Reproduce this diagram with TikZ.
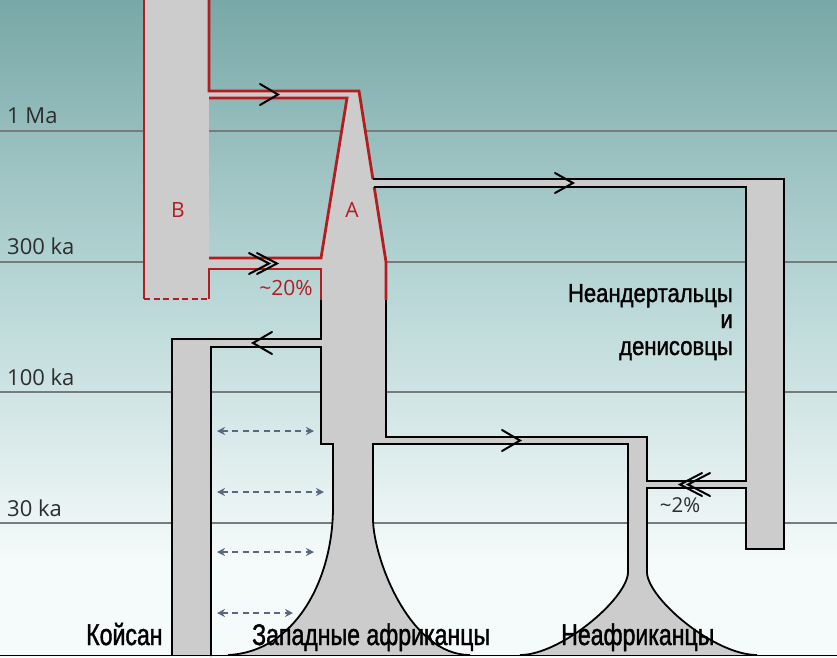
\documentclass[tikz,border=0pt]{standalone}
\usepackage{fontspec}
\setmainfont{Open Sans}
\newfontfamily\condfont[FakeStretch=0.77,FakeBold=1.3]{Liberation Sans}
\newfontfamily\condfontn[FakeStretch=0.85,FakeBold=1.3]{Liberation Sans}
\usetikzlibrary{arrows.meta}
\definecolor{bgtop}{RGB}{120,168,167}
\definecolor{bgmid}{RGB}{182,213,213}
\definecolor{bgbot}{RGB}{245,250,250}
\definecolor{popgrey}{RGB}{204,204,204}
\definecolor{archred}{RGB}{180,28,32}
\definecolor{timeline}{RGB}{118,124,124}
\definecolor{dasharr}{RGB}{88,104,128}
\definecolor{labelgrey}{RGB}{45,45,45}
\begin{document}
\begin{tikzpicture}[x=1pt,y=-1pt,
  outl/.style={black,line width=1.8pt,line join=miter},
  redl/.style={archred,line width=2.8pt,line join=miter},
  chevron/.style={black,line width=2pt,line cap=round,line join=miter},
  tline/.style={timeline,line width=1.3pt},
  migr/.style={dasharr,line width=2pt,dash pattern=on 6pt off 4.5pt,
    {Stealth[length=8pt,width=8pt]}-{Stealth[length=8pt,width=8pt]}},
  tlab/.style={labelgrey,font=\fontsize{22}{26}\selectfont,anchor=base west,inner sep=0pt},
  redlab/.style={archred,font=\fontsize{21}{24}\selectfont,inner sep=0pt},
  biglab/.style={black,font=\condfont\fontsize{30}{32}\selectfont,anchor=base west,inner sep=0pt},
  neanlab/.style={black,font=\condfontn\fontsize{26}{28}\selectfont,anchor=base east,inner sep=0pt}]
\useasboundingbox (0,0) rectangle (837,657);
\clip (0,0) rectangle (837,657);
% background
\shade[top color=bgtop,bottom color=bgbot,middle color=bgmid] (0,0) rectangle (837,560);
\fill[bgbot] (0,559) rectangle (837,657);
% time lines
\draw[tline] (0,131) -- (837,131);
\draw[tline] (0,262) -- (837,262);
\draw[tline] (0,392) -- (837,392);
\draw[tline] (0,523) -- (837,523);
\node[tlab] (t1) at (7,123) {1 Ma};
\node[tlab] (t2) at (7,254) {300 ka};
\node[tlab] (t3) at (7,385) {100 ka};
\node[tlab] (t4) at (7,516) {30 ka};
% grey population fills
\fill[popgrey] (144,-5) rectangle (209,299);
\fill[popgrey] (205,91) rectangle (355,98);
\fill[popgrey] (347,91) -- (359,91) -- (386,262) -- (386,444) -- (321,444) -- (321,258) -- (347,98) -- cycle;
\fill[popgrey] (205,258) rectangle (325,269);
\fill[popgrey] (370,179) rectangle (784,187);
\fill[popgrey] (746,179) rectangle (784,549);
\fill[popgrey] (644,481) rectangle (748,488);
\fill[popgrey] (172,339) rectangle (325,347);
\fill[popgrey] (172,339) rectangle (211,655);
\fill[popgrey] (380,437) rectangle (647,444);
\fill[popgrey] (333,440) -- (333,507) .. controls (333,580) and (295,652) .. (228,655)
   -- (470,655) .. controls (410,655) and (374,560) .. (373,520) -- (373,440) -- cycle;
\fill[popgrey] (628,437) -- (628,573) .. controls (626,600) and (560,655) .. (520,655)
   -- (757,655) .. controls (715,655) and (649,600) .. (647,573) -- (647,437) -- cycle;
% red archaic outlines
\draw[redl] (144,-5) -- (144,299);
\draw[redl,dash pattern=on 6pt off 3.5pt] (144,299) -- (209,299);
\draw[redl] (209,-5) -- (209,91) -- (359,91) -- (372.9,179);
\draw[redl] (374.2,187) -- (386,262) -- (386,300);
\draw[redl] (209,98) -- (347,98) -- (321,258) -- (209,258);
\draw[redl] (209,299) -- (209,269) -- (321,269) -- (321,300);
% black outlines
\draw[outl] (321,300) -- (321,339) -- (172,339) -- (172,656);
\draw[outl] (211,656) -- (211,347) -- (321,347) -- (321,444) -- (333,444) -- (333,507)
   .. controls (333,580) and (295,652) .. (228,655);
\draw[outl] (470,655) .. controls (410,655) and (374,560) .. (373,520) -- (373,444)
   -- (628,444) -- (628,573) .. controls (626,600) and (560,655) .. (520,655);
\draw[outl] (386,300) -- (386,437) -- (647,437) -- (647,481) -- (746,481) -- (746,187) -- (374.2,187);
\draw[outl] (372.9,179) -- (784,179) -- (784,549) -- (746,549) -- (746,488) -- (647,488) -- (647,573)
   .. controls (649,600) and (715,655) .. (757,655);
\draw[outl] (0,655.5) -- (837,655.5);
% flow chevrons
\draw[chevron] (260,84) -- (278,94.5) -- (260,105);
\draw[chevron] (249,253) -- (269,263.5) -- (249,274);
\draw[chevron] (257,253) -- (277,263.5) -- (257,274);
\draw[chevron] (555,173) -- (573,183) -- (555,193);
\draw[chevron] (272,332) -- (253,343) -- (272,354);
\draw[chevron] (502,430) -- (520,440.5) -- (502,451);
\draw[chevron] (702,473) -- (680,484.5) -- (702,496);
\draw[chevron] (710,473) -- (688,484.5) -- (710,496);
% gene flow between Khoisan and West Africans
\draw[migr] (217,431) -- (314,431);
\draw[migr] (217,492) -- (324,492);
\draw[migr] (217,552) -- (314,552);
\draw[migr] (217,613) -- (293,613);
% labels
\node[redlab] (lb) at (178,210) {B};
\node[redlab] (la) at (352,210) {A};
\node[redlab] (l20) at (286,288) {\textasciitilde20\%};
\node[labelgrey,font=\fontsize{20.5}{24}\selectfont,inner sep=0pt] (l2) at (680,505) {\textasciitilde2\%};
\node[neanlab] (n1) at (733,302) {Неандертальцы};
\node[neanlab] (n2) at (733,328) {и};
\node[neanlab] (n3) at (733,355) {денисовцы};
\node[biglab] (k) at (86,645) {Койсан};
\node[biglab] (w) at (252,645) {Западные африканцы};
\node[biglab] (na) at (561,645) {Неафриканцы};
\end{tikzpicture}
\end{document}
